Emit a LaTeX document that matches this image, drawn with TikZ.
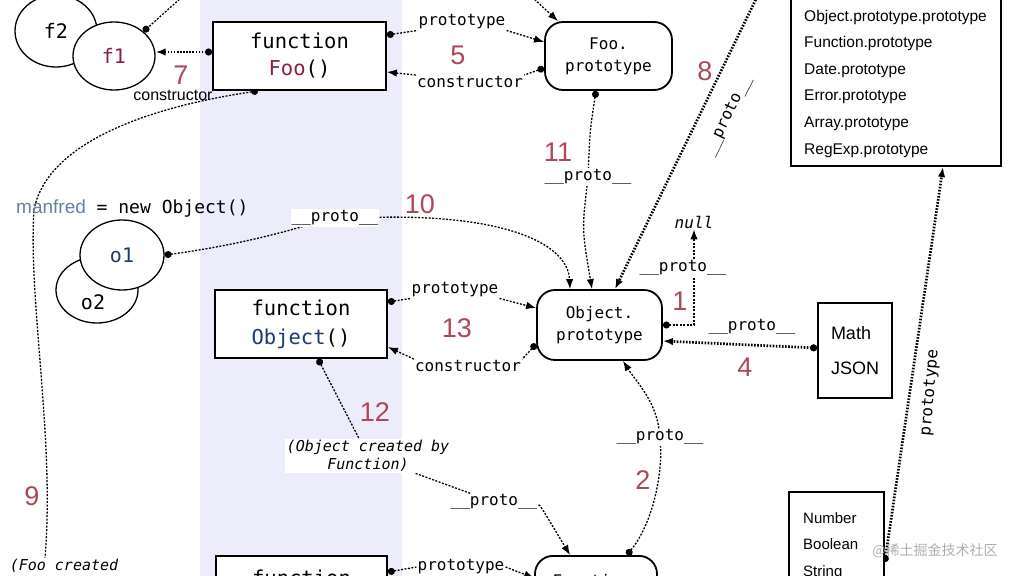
\documentclass[tikz,border=0pt]{standalone}
\usepackage{fontspec}
\setmainfont{Liberation Sans}
\newfontfamily\mono{DejaVu Sans Mono}
\newfontfamily\lsans{Liberation Sans}
\newfontfamily\cjk{Noto Sans CJK SC}
\usetikzlibrary{arrows.meta,shapes.geometric,calc}
\definecolor{band}{RGB}{236,236,250}
\definecolor{numred}{RGB}{172,72,88}
\definecolor{foored}{RGB}{140,30,60}
\definecolor{objblue}{RGB}{30,55,115}
\definecolor{mfc}{RGB}{100,130,165}
\definecolor{wm}{RGB}{175,175,175}
\pgfdeclarelayer{bg}
\pgfdeclarelayer{edges}
\pgfsetlayers{bg,edges,main}
\tikzset{
  fnbox/.style={draw, line width=1.8pt, fill=white, minimum width=173pt, minimum height=68pt, align=center, inner sep=0pt, font=\mono\fontsize{20.5}{27}\selectfont},
  rbox/.style={draw, line width=1.8pt, fill=white, rounded corners=18pt, minimum width=125pt, minimum height=68pt, align=center, inner sep=0pt, font=\mono\fontsize{16}{22}\selectfont},
  obj/.style={draw, ellipse, line width=1.3pt, fill=white, inner sep=0pt, font=\mono\fontsize{20}{24}\selectfont},
  lbl/.style={fill=white, inner sep=1pt, font=\mono\fontsize{16}{20}\selectfont},
  ilbl/.style={fill=white, inner sep=1.5pt, align=center, font=\mono\itshape\fontsize{15}{18}\selectfont},
  num/.style={text=numred, inner sep=0pt, font=\lsans\fontsize{27}{30}\selectfont},
  sqbox/.style={draw, line width=1.8pt, fill=white, inner sep=0pt},
  listtext/.style={align=left, inner sep=0pt, font=\lsans\fontsize{15.5}{26.6}\selectfont},
  dl/.style={line width=1.3pt, dash pattern=on 2pt off 1.5pt},
  tdl/.style={line width=2.7pt, dash pattern=on 1.6pt off 1.5pt},
  tip/.style={-{Latex[length=10pt,width=7.5pt]}},
  dotstart/.style={{Circle[length=7pt]}-},
  dottip/.style={{Circle[length=7pt]}-{Latex[length=10pt,width=7.5pt]}},
  dotend/.style={-{Circle[length=7pt]}}
}
\begin{document}
\begin{tikzpicture}[x=1pt,y=-1pt]
\useasboundingbox (0,0) rectangle (1013,576);
\begin{pgfonlayer}{bg}
\fill[white] (0,0) rectangle (1013,576);
\fill[band] (200,0) rectangle (402,576);
\end{pgfonlayer}

% objects
\node[obj, minimum width=82pt, minimum height=72pt] (f2) at (56,31) {f2};
\node[obj, minimum width=82pt, minimum height=68pt, text=foored] (f1) at (114,56) {f1};
\node[obj, minimum width=82pt, minimum height=66pt] (o2) at (97,290) {};
\node[font=\mono\fontsize{20}{24}\selectfont, inner sep=0pt] (o2t) at (93,302) {o2};
\node[obj, minimum width=84pt, minimum height=70pt, text=objblue] (o1) at (122,255) {o1};
\node[anchor=west, inner sep=0pt, font=\mono\fontsize{18}{22}\selectfont] (mf) at (16,208) {{\color{mfc}\lsans\fontsize{19}{22}\selectfont manfred} = new Object()};

% boxes
\node[fnbox] (foo) at (299.5,56) {function\\{\color{foored}Foo}()};
\node[fnbox, minimum width=172pt, font=\mono\fontsize{20.5}{29}\selectfont] (objf) at (301,324) {function\\{\color{objblue}Object}()};
\node[fnbox, minimum width=171pt, anchor=north] (funcb) at (301.5,555) {};
\node[font=\mono\fontsize{20.5}{27}\selectfont, inner sep=0pt] (funcbt) at (301.5,578) {function};
\node[rbox, minimum width=127pt] (foop) at (608.5,56) {Foo.\\prototype};
\node[rbox, minimum height=70pt] (objp) at (599.5,325) {Object.\\prototype};
\node[rbox, minimum width=122pt, minimum height=70pt, anchor=north] (funcp) at (596,555) {};
\node[font=\mono\fontsize{16}{22}\selectfont, inner sep=0pt] (funcpt) at (596,581) {Function.};

\node[sqbox, minimum width=210pt, minimum height=190pt, anchor=south west] (list) at (790,167) {};
\node[listtext, anchor=west] (listt) at (804,83.5) {Object.prototype.prototype\\Function.prototype\\Date.prototype\\Error.prototype\\Array.prototype\\RegExp.prototype};
\node[sqbox, minimum width=74pt, minimum height=95pt, align=left, font=\lsans\fontsize{18}{35}\selectfont] (math) at (855,350.5) {Math\\JSON};
\node[sqbox, minimum width=95pt, minimum height=120pt, anchor=north west] (numb) at (788,491) {};
\node[listtext, font=\lsans\fontsize{15}{26.5}\selectfont, anchor=west] (numt) at (803,546) {Number\\Boolean\\String};

\node[font=\mono\itshape\fontsize{16}{20}\selectfont, inner sep=1pt] (null) at (694,222) {null};

% labels
\node[lbl] (lp5) at (462,22) {prototype};
\node[lbl] (lc5) at (470,82) {constructor};
\node[num] (n5) at (458,55) {5};
\node[num] (n7) at (181,75) {7};
\node[inner sep=0pt, font=\lsans\fontsize{16}{20}\selectfont] (c7) at (173,95) {constructor};
\node[lbl] (lp11) at (588,177) {\_\_proto\_\_};
\node[num] (n11) at (558,152) {11};
\node[num] (n8) at (705,71) {8};
\node[lbl, fill=none, rotate=64] (lp8) at (728,116) {\_\_proto\_\_};
\node[lbl] (lp10) at (335,218) {\_\_proto\_\_};
\node[num] (n10) at (420,204) {10};
\node[lbl] (lp13) at (455,290) {prototype};
\node[lbl] (lc13) at (468,366) {constructor};
\node[num] (n13) at (457,328) {13};
\node[lbl] (lp1) at (683,268) {\_\_proto\_\_};
\node[num] (n1) at (680,301) {1};
\node[lbl] (lp4) at (752,327) {\_\_proto\_\_};
\node[num] (n4) at (745,367) {4};
\node[lbl] (lp2) at (660,437) {\_\_proto\_\_};
\node[num] (n2) at (643,480) {2};
\node[num] (n12) at (375,412) {12};
\node[ilbl] (lp12) at (368,456) {(Object created by\\Function)};
\node[lbl] (lp12b) at (494,502) {\_\_proto\_\_};
\node[num] (n9) at (32,496) {9};
\node[ilbl] (lf9) at (64,566) {(Foo created};
\node[lbl] (lpb) at (461,567) {prototype};
\node[lbl, fill=none, rotate=85] (lpr) at (930,393) {prototype};
\node[text=wm, inner sep=0pt, font=\cjk\fontsize{14}{16}\selectfont] (wmk) at (935,551) {@稀土掘金技术社区};

\coordinate (t1) at (182,-3);
\coordinate (t2) at (532,-3);
\coordinate (t3) at (757,-3);

\begin{pgfonlayer}{edges}
% 7
\draw[tdl, dottip] (foo.west |- 0,52) -- (f1.east |- 0,52);
\draw[dl, dotend] (t1) -- (f1.north east);
\draw[dl, tip] (t2) -- (foop.north -| 558,0);
% 5
\draw[dl, dotstart] (foo.east |- 0,35) -- (lp5.south west);
\draw[dl, tip] (lp5.south east) -- (foop.west |- 0,42);
\draw[dl, dotstart] (foop.west |- 0,68) -- (lc5.north east);
\draw[dl, tip] (lc5.north west) -- (foo.east |- 0,72);
% 11
\draw[dl, dotstart] (foop.south -| 596,0) .. controls (590,130) .. (lp11);
\draw[dl, tip] (lp11) .. controls (582,230) .. (objp.north -| 592,0);
% 8
\draw[tdl, tip] (t3) -- (objp.north -| 615,0);
% 10
\draw[dl, dotstart] (o1.east) .. controls (240,245) and (290,230) .. (lp10);
\draw[dl, tip] (lp10) .. controls (510,215) and (568,245) .. (objp.north -| 570,0);
% 13
\draw[dl, dotstart] (objf.east |- 0,302) -- (lp13.south west);
\draw[dl, tip] (lp13.south east) -- (objp.west |- 0,308);
\draw[dl, dotstart] (objp.west |- 0,344) -- (lc13.north east);
\draw[dl, tip] (lc13.north west) -- (objf.east |- 0,347);
% 1
\draw[dl, dottip] (objp.east |- 0,325) -| (null.south);
% 4
\draw[tdl, dottip] (math.west |- 0,348) -- (objp.east |- 0,341);
% 2
\draw[dl, dotstart] (funcp.north -| 627,0) .. controls (655,520) and (662,470) .. (lp2);
\draw[dl, tip] (lp2) .. controls (655,400) and (635,380) .. (objp.south -| 623,0);
% 12
\draw[dl, dotstart] (objf.south -| 318,0) -- (lp12);
\draw[dl] (lp12) -- (lp12b);
\draw[dl, tip] (lp12b) .. controls (540,505) .. (funcp.north -| 570,0);
% 9
\draw[dl, dotstart] (foo.south -| 258,0) .. controls (130,110) and (45,150) .. (34,210) .. controls (28,300) and (55,440) .. (lf9.north -| 45,0);
% bottom prototype
\draw[dl, dotstart] (funcb.east |- 0,572) -- (lpb.west);
\draw[dl, tip] (lpb.east) -- (funcp.west |- 0,578);
% right prototype
\draw[tdl, dottip] (numb.east |- 0,562) -- (list.south -| 943,0);
\end{pgfonlayer}
\end{tikzpicture}
\end{document}
